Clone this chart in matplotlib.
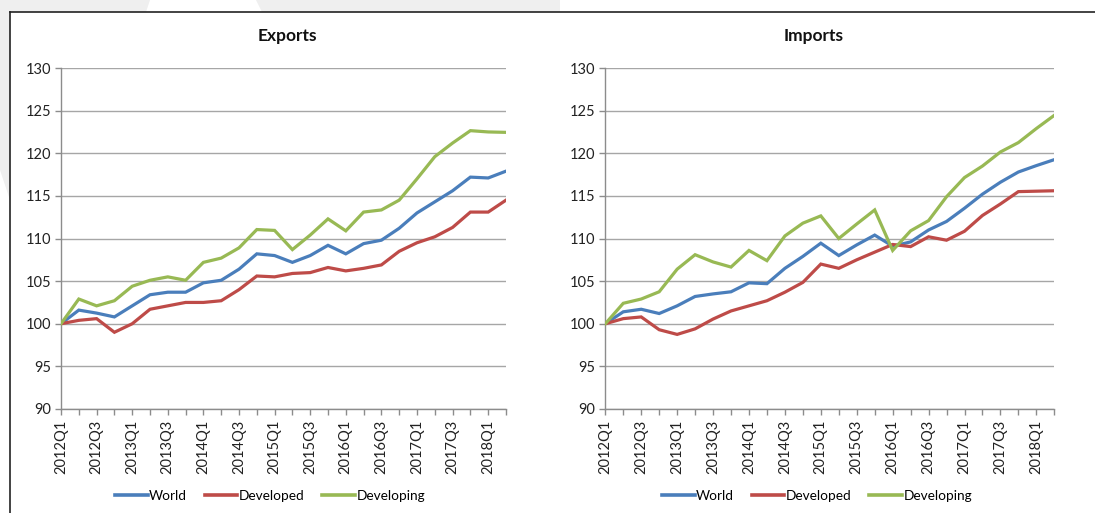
import matplotlib
matplotlib.use("Agg")
import matplotlib.pyplot as plt
from matplotlib.patches import Polygon
from matplotlib.lines import Line2D

quarters = [f"{y}Q{q}" for y in range(2012, 2019) for q in range(1, 5)][:26]

exp_world = [100, 101.6, 101.25, 100.8, 102.1, 103.4, 103.7, 103.7, 104.8, 105.1,
             106.4, 108.2, 108.0, 107.2, 108.0, 109.2, 108.2, 109.4, 109.8, 111.2,
             113.0, 114.3, 115.6, 117.2, 117.1, 117.9]
exp_developed = [100, 100.4, 100.6, 99.0, 100.0, 101.7, 102.1, 102.5, 102.5, 102.7,
                 104.0, 105.6, 105.5, 105.9, 106.0, 106.6, 106.2, 106.5, 106.9, 108.5,
                 109.5, 110.2, 111.3, 113.1, 113.1, 114.5]
exp_developing = [100, 102.9, 102.1, 102.7, 104.4, 105.1, 105.5, 105.1, 107.2, 107.7,
                  108.9, 111.05, 110.95, 108.7, 110.4, 112.3, 110.9, 113.1, 113.35, 114.5,
                  117.0, 119.6, 121.2, 122.65, 122.5, 122.45]

imp_world = [100, 101.4, 101.7, 101.2, 102.1, 103.2, 103.5, 103.75, 104.8, 104.7,
             106.5, 107.9, 109.45, 108.0, 109.25, 110.4, 109.1, 109.6, 111.0, 112.0,
             113.55, 115.2, 116.6, 117.8, 118.55, 119.25]
imp_developed = [100, 100.6, 100.8, 99.3, 98.75, 99.4, 100.55, 101.5, 102.1, 102.7,
                 103.7, 104.85, 107.0, 106.5, 107.5, 108.4, 109.3, 109.05, 110.2, 109.8,
                 110.85, 112.7, 114.05, 115.5, 115.55, 115.6]
imp_developing = [100, 102.4, 102.9, 103.75, 106.4, 108.1, 107.25, 106.65, 108.6, 107.4,
                  110.3, 111.8, 112.65, 110.0, 111.7, 113.35, 108.6, 110.9, 112.1, 114.9,
                  117.15, 118.5, 120.15, 121.25, 122.9, 124.45]

series_names = ["World", "Developed", "Developing"]
colors = ["#4a7ebb", "#be4b48", "#98b954"]
yticks = [90, 95, 100, 105, 110, 115, 120, 125, 130]

plt.rcParams['font.family'] = ['Lato', 'DejaVu Sans']

W, H = 1095, 513
fig = plt.figure(figsize=(W / 100, H / 100), dpi=100)
fig.patch.set_facecolor("white")

def fx(x): return x / W
def fy(y): return 1 - y / H

bg = fig.add_axes([0, 0, 1, 1], zorder=-10)
bg.set_xlim(0, W); bg.set_ylim(H, 0); bg.axis("off")
bg.add_patch(Polygon([(0, 0), (150, 0), (146, 12), (0, 12)], closed=True, color="#efefef", lw=0))
bg.add_patch(Polygon([(256, 0), (560, 0), (560, 12), (262, 12)], closed=True, color="#efefef", lw=0))
bg.add_patch(Polygon([(0, 0), (10, 0), (10, 200), (0, 170)], closed=True, color="#efefef", lw=0))
bg.plot([10, 10], [12, H], color="#222222", lw=1.2)
bg.plot([10, W], [12, 12], color="#222222", lw=1.2)

def panel(rect, title, tx, lx, data):
    ax = fig.add_axes(rect)
    x = list(range(len(quarters)))
    for vals, c, n in zip(data, colors, series_names):
        ax.plot(x, vals, color=c, lw=2.3, label=n, solid_joinstyle="miter", zorder=3)
    ax.set_xlim(0, len(quarters) - 1)
    ax.set_ylim(90, 130)
    ax.set_yticks(yticks)
    ax.set_yticklabels([str(v) for v in yticks], fontsize=10.5, color="#222222")
    ax.set_xticks(x)
    ax.set_xticklabels([q if i % 2 == 0 else "" for i, q in enumerate(quarters)],
                       rotation=90, fontsize=10.5, color="#222222")
    ax.grid(axis="y", color="#a6a6a6", lw=1.0)
    ax.set_axisbelow(True)
    for s in ["top", "right"]:
        ax.spines[s].set_visible(False)
    for s in ["left", "bottom"]:
        ax.spines[s].set_color("#8c8c8c")
        ax.spines[s].set_linewidth(1.0)
    ax.tick_params(axis="both", length=4, width=1.0, color="#8c8c8c")
    ax.tick_params(axis="y", pad=3)
    ax.tick_params(axis="x", pad=4)
    fig.text(fx(tx), fy(36), title, ha="center", va="center", fontsize=12.5,
             fontweight="bold", color="#111111")
    handles = [Line2D([0], [0], color=c, lw=2.6) for c in colors]
    fig.legend(handles, series_names, loc="center", bbox_to_anchor=(fx(lx), fy(496)), ncol=3,
               frameon=False, fontsize=9.8, handlelength=2.4, handletextpad=0.1,
               columnspacing=1.3, borderpad=0)
    return ax

bottom = (H - 409) / H
height = (409 - 68) / H
panel([61 / W, bottom, 445 / W, height], "Exports", 287, 270,
      [exp_world, exp_developed, exp_developing])
panel([605.3 / W, bottom, 449 / W, height], "Imports", 814, 817,
      [imp_world, imp_developed, imp_developing])

fig.savefig("out.png", dpi=100, facecolor=fig.get_facecolor())
